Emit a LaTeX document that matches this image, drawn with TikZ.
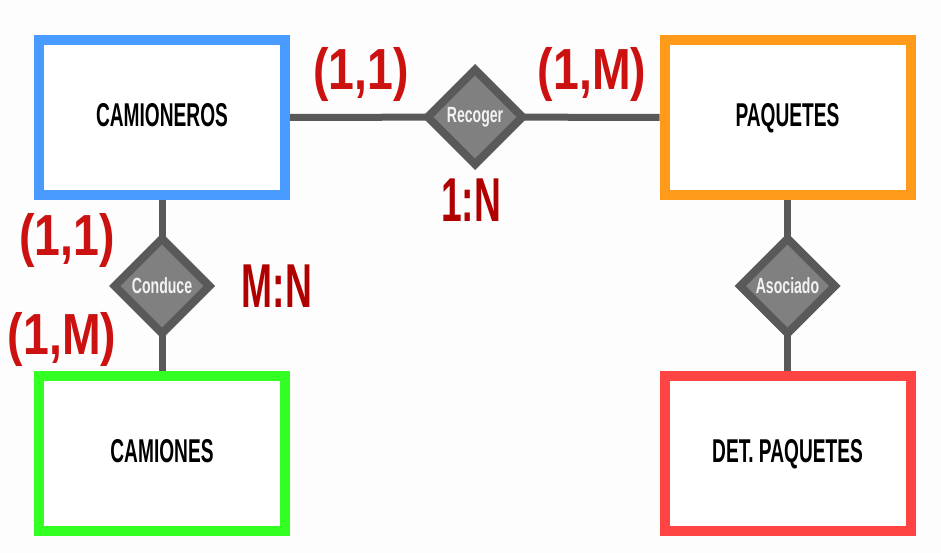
\documentclass[tikz,border=0pt]{standalone}
\usepackage{fontspec}
\usetikzlibrary{shapes.geometric,backgrounds}
\newfontfamily\entfont{Liberation Sans}[FakeStretch=0.58]
\newfontfamily\cardfont{Liberation Sans}[FakeStretch=0.8]
\newfontfamily\ratfont{Liberation Sans}[FakeStretch=0.6]
\newfontfamily\relfont{Liberation Sans}[FakeStretch=0.64]
\definecolor{bgc}{HTML}{FDFDFD}
\definecolor{cblue}{HTML}{4A9BFF}
\definecolor{corange}{HTML}{FF9A1A}
\definecolor{cgreen}{HTML}{33FF22}
\definecolor{cred}{HTML}{FF4444}
\definecolor{lgray}{HTML}{595959}
\definecolor{fgray}{HTML}{808080}
\definecolor{cardred}{HTML}{CC1111}
\definecolor{ratred}{HTML}{B00000}
\definecolor{reltext}{HTML}{F2F2F2}
\tikzset{
  entity/.style={draw, fill=white, line width=10pt, minimum width=246pt, minimum height=155pt,
    inner sep=0pt, text height=24pt, text depth=6pt,
    font=\entfont\bfseries\fontsize{33}{36}\selectfont, text=black},
  relation/.style={diamond, aspect=1, draw=lgray, fill=fgray, line width=8pt, minimum size=98pt,
    inner sep=0pt, font=\relfont\bfseries\fontsize{22}{24}\selectfont, text=reltext},
  card/.style={anchor=base, inner sep=0pt, text=cardred, font=\cardfont\bfseries\fontsize{58}{60}\selectfont},
  ratio/.style={anchor=base, inner sep=0pt, text=ratred, font=\ratfont\bfseries\fontsize{62}{64}\selectfont},
  link/.style={draw=lgray, line width=7pt}
}
\begin{document}
\begin{tikzpicture}[x=1pt,y=-1pt]
\useasboundingbox (0,0) rectangle (941,553);
% entities
\node[entity, draw=cblue] (camioneros) at (162,117.5) {CAMIONEROS};
\node[entity, draw=corange] (paquetes) at (787.5,117.5) {PAQUETES};
\node[entity, draw=cgreen] (camiones) at (162,453.5) {CAMIONES};
\node[entity, draw=cred] (det) at (787.5,453.5) {DET. PAQUETES};
% relations
\node[relation] (recoger) at (475,117) {Recoger};
\node[relation] (conduce) at (162,286) {Conduce};
\node[relation] (asociado) at (787.5,286) {Asociado};
% connectors
\begin{scope}[on background layer]
\fill[bgc] (0,0) rectangle (941,553);
\draw[link] (camioneros.east) -- (recoger.center) -- (paquetes.west);
\draw[link] (camioneros.south) -- (conduce.center) -- (camiones.north);
\draw[link] (paquetes.south) -- (asociado.center) -- (det.north);
\end{scope}
% cardinalities
\node[card] (c1) at (361,90) {(1,1)};
\node[card] (c2) at (592,90) {(1,M)};
\node[card] (c3) at (67,255) {(1,1)};
\node[card] (c4) at (62,354) {(1,M)};
\node[ratio] (r1) at (471,222) {1:N};
\node[ratio] (r2) at (277,307) {M:N};
\end{tikzpicture}
\end{document}
